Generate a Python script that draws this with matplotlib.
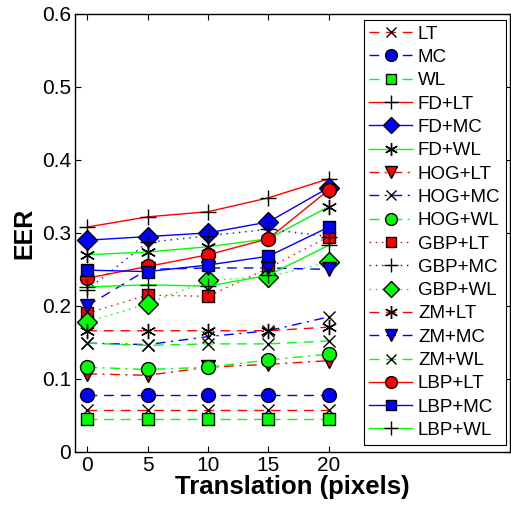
import matplotlib
matplotlib.use('Agg')
import matplotlib.pyplot as plt

plt.rcParams['font.family'] = ['Liberation Sans', 'DejaVu Sans']

shift = [0, 5, 10, 15, 20]

names = ['LT', 'MC', 'WL', 'FD+LT', 'FD+MC', 'FD+WL', 'HOG+LT', 'HOG+MC',
         'HOG+WL', 'GBP+LT', 'GBP+MC', 'GBP+WL', 'ZM+LT', 'ZM+MC', 'ZM+WL',
         'LBP+LT', 'LBP+MC', 'LBP+WL']

lt = [0.058, 0.058, 0.058, 0.058, 0.058]
mc = [0.078, 0.078, 0.078, 0.078, 0.078]
wl = [0.045, 0.045, 0.045, 0.045, 0.045]
fd_lt = [0.308, 0.322, 0.329, 0.348, 0.374]
fd_mc = [0.290, 0.295, 0.300, 0.315, 0.362]
fd_wl = [0.270, 0.274, 0.281, 0.292, 0.336]
hog_lt = [0.107, 0.105, 0.116, 0.120, 0.125]
hog_mc = [0.149, 0.147, 0.158, 0.166, 0.185]
hog_wl = [0.116, 0.113, 0.116, 0.126, 0.134]
gbp_lt = [0.190, 0.215, 0.213, 0.252, 0.295]
gbp_mc = [0.222, 0.287, 0.296, 0.305, 0.295]
gbp_wl = [0.178, 0.203, 0.235, 0.240, 0.260]
zm_lt = [0.166, 0.166, 0.166, 0.166, 0.171]
zm_mc = [0.200, 0.250, 0.252, 0.252, 0.250]
zm_wl = [0.149, 0.146, 0.148, 0.148, 0.152]
lbp_lt = [0.238, 0.254, 0.270, 0.292, 0.359]
lbp_mc = [0.249, 0.247, 0.256, 0.268, 0.308]
lbp_wl = [0.226, 0.229, 0.227, 0.242, 0.283]

series = [lt, mc, wl, fd_lt, fd_mc, fd_wl, hog_lt, hog_mc, hog_wl,
          gbp_lt, gbp_mc, gbp_wl, zm_lt, zm_mc, zm_wl, lbp_lt, lbp_mc, lbp_wl]

asterisk = (6, 2, 0)
# (linestyle, line colour, marker, marker face)
styles = [
    ('--', 'r', 'x', 'k'),
    ('--', 'b', 'o', 'b'),
    ('--', 'lime', 's', 'lime'),
    ('-', 'r', '+', 'k'),
    ('-', 'b', 'D', 'b'),
    ('-', 'lime', asterisk, 'k'),
    ('-.', 'r', 'v', 'r'),
    ('-.', 'b', 'x', 'k'),
    ('-.', 'lime', 'o', 'lime'),
    (':', 'r', 's', 'r'),
    (':', 'b', '+', 'k'),
    (':', 'lime', 'D', 'lime'),
    ('--', 'r', asterisk, 'k'),
    ('--', 'b', 'v', 'b'),
    ('--', 'lime', 'x', 'k'),
    ('-', 'r', 'o', 'r'),
    ('-', 'b', 's', 'b'),
    ('-', 'lime', '+', 'k'),
]

# matlab-like dash patterns
dash = {'--': (0, (7, 5)), '-.': (0, (7, 4, 1.5, 4)), ':': (0, (1, 3.5)), '-': '-'}
msize = {'x': 8, '+': 12, asterisk: 11, 's': 9, 'o': 10, 'D': 10, 'v': 10}

fig = plt.figure(figsize=(5.11, 5.13), dpi=100)
ax = fig.add_axes([0.147, 0.119, 0.851, 0.854])

for name, ys, (ls, col, mk, face) in zip(names, series, styles):
    ax.plot(shift, ys, linestyle=dash[ls], color=col, linewidth=1.0,
            marker=mk, markersize=msize[mk], markerfacecolor=face,
            markeredgecolor='k', markeredgewidth=1.0, label=name)

ax.set_xlim(-1, 35)
ax.set_ylim(0, 0.6)
ax.set_xticks(shift)
ax.set_xticklabels([str(s) for s in shift])
yt = [0, 0.1, 0.2, 0.3, 0.4, 0.5, 0.6]
ax.set_yticks(yt)
ax.set_yticklabels(['0', '0.1', '0.2', '0.3', '0.4', '0.5', '0.6'])
ax.tick_params(direction='in', top=True, right=True, labelsize=15,
               length=4, width=0.8, pad=3)
for sp in ax.spines.values():
    sp.set_linewidth(1.0)

ax.set_xlabel('Translation (pixels)', fontsize=18.5, fontweight='bold', labelpad=0)
ax.set_ylabel('EER', fontsize=18, fontweight='bold', labelpad=4)

leg = ax.legend(loc='upper right', fontsize=13.5, handlelength=2.3,
                handletextpad=0.3, labelspacing=0.33, borderpad=0.3,
                borderaxespad=0, fancybox=False, framealpha=1, edgecolor='k',
                bbox_to_anchor=(0.991, 0.986), markerscale=0.85)
leg.get_frame().set_linewidth(0.8)

plt.savefig('out.png', dpi=100)
